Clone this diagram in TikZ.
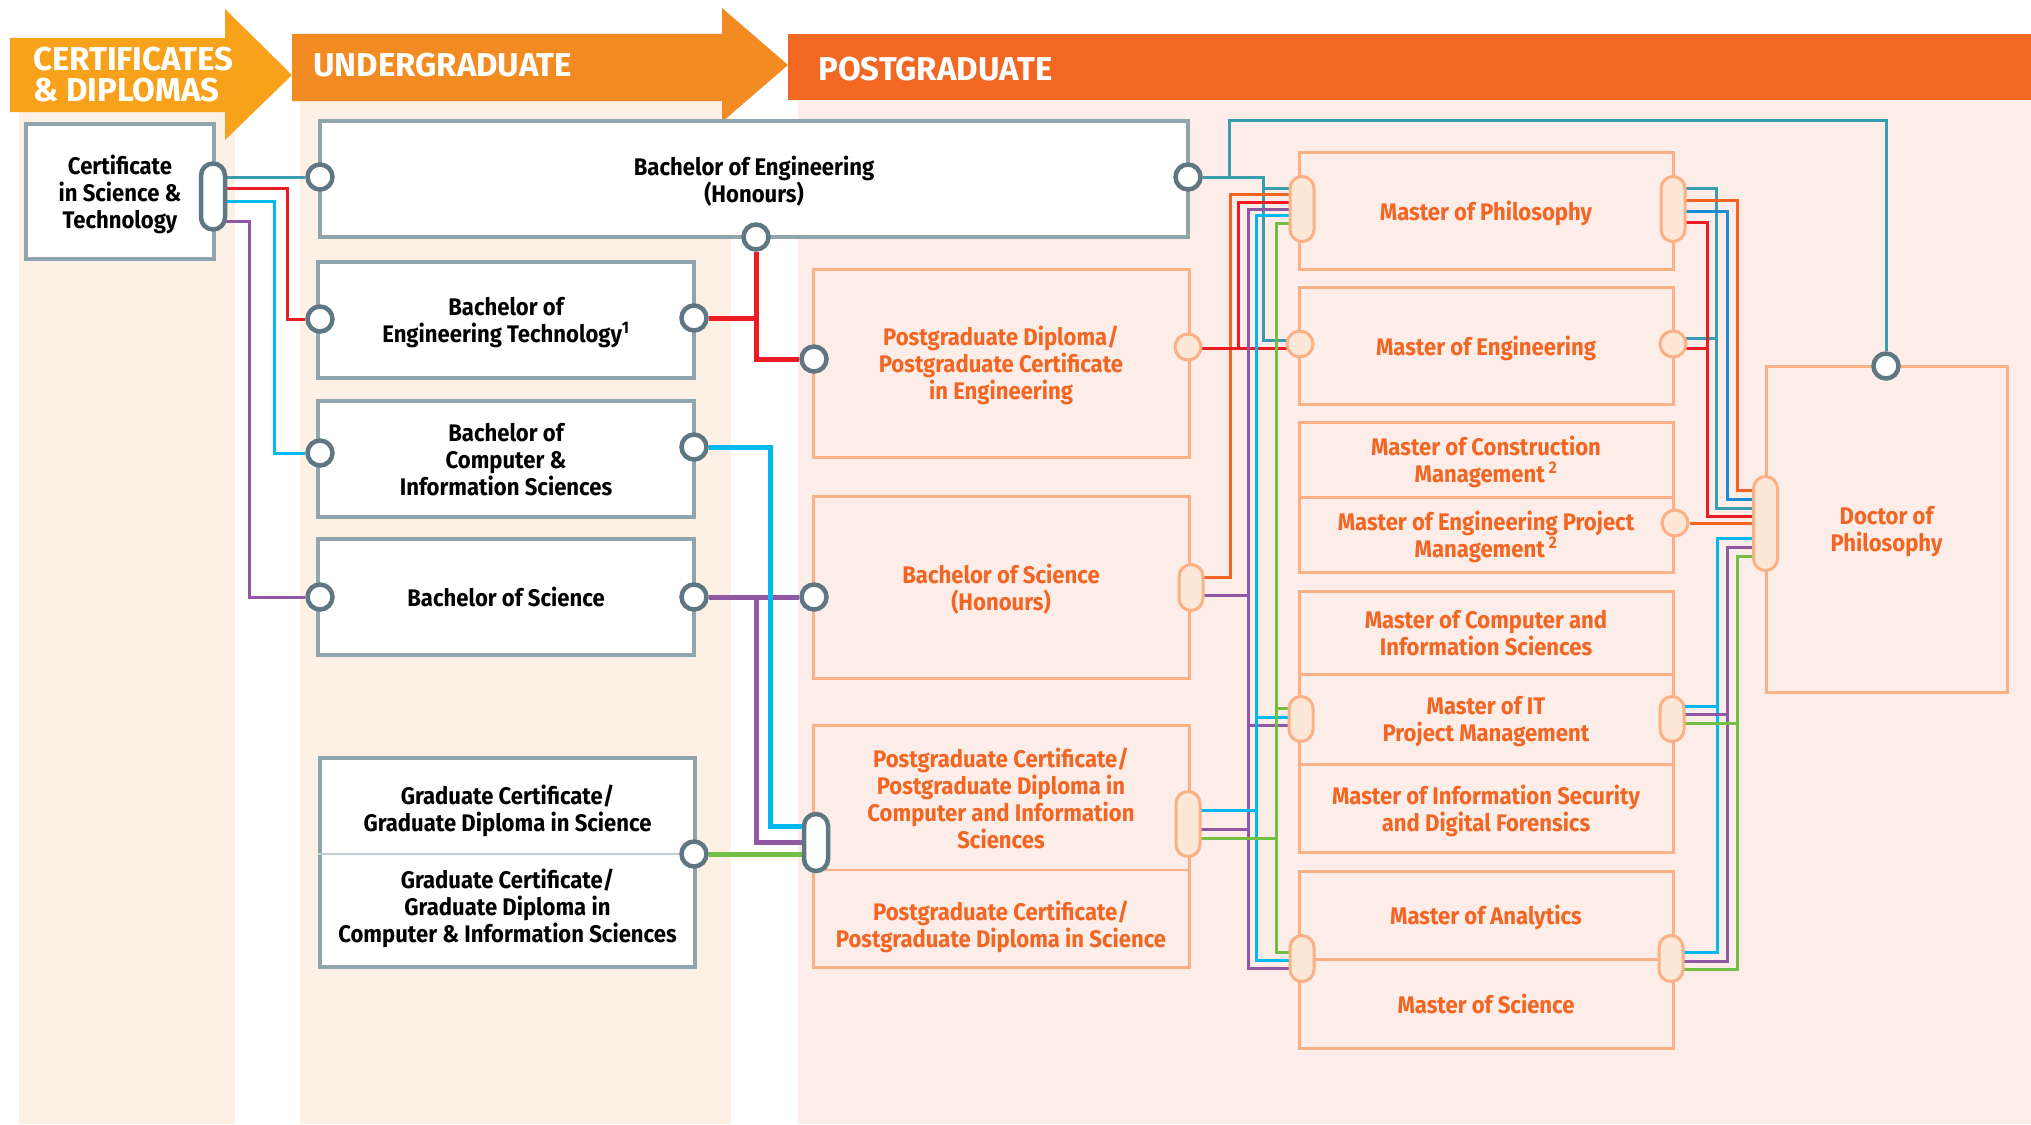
\documentclass[tikz,border=0pt]{standalone}
\usepackage{fontspec}
\setmainfont{Fira Sans}[FakeStretch=0.92]
\newfontfamily\bannerfam{Fira Sans}
\usetikzlibrary{positioning}

\definecolor{hdrA}{HTML}{F8A21C}
\definecolor{hdrB}{HTML}{F28B22}
\definecolor{hdrC}{HTML}{F26722}
\definecolor{colA}{HTML}{FDF1E6}
\definecolor{colB}{HTML}{FCEDE8}
\definecolor{boxgrey}{HTML}{8FA4AC}
\definecolor{dotgrey}{HTML}{5E7782}
\definecolor{boxorange}{HTML}{FBB086}
\definecolor{pillfill}{HTML}{FDE8D8}
\definecolor{txtorange}{HTML}{F26522}
\definecolor{lnteal}{HTML}{3A9DAF}
\definecolor{lnred}{HTML}{ED1C24}
\definecolor{lncyan}{HTML}{00B9EF}
\definecolor{lnpurple}{HTML}{8F57A4}
\definecolor{lngreen}{HTML}{72BF44}
\definecolor{lnorange}{HTML}{F26522}
\definecolor{lnblue}{HTML}{1B8DD3}

\newcommand\boxfont{\bfseries\fontsize{24}{27}\selectfont}
\newcommand\bannerfont{\bannerfam\bfseries\fontsize{33}{31}\selectfont}

\pgfdeclarelayer{bg}
\pgfdeclarelayer{lines}
\pgfsetlayers{bg,lines,main}

\begin{document}
\begin{tikzpicture}[x=1pt,y=-1pt,
  gbox/.style={draw=boxgrey,line width=4pt,fill=white,rectangle,align=center,text=black,font=\boxfont,text depth=0pt},
  obox/.style={draw=boxorange,line width=3pt,rectangle,align=center,text=txtorange,font=\boxfont,text depth=0pt},
  gtext/.style={align=center,text=black,font=\boxfont,text depth=0pt},
  otext/.style={align=center,text=txtorange,font=\boxfont,text depth=0pt},
  gdot/.style={circle,draw=dotgrey,line width=4.5pt,fill=white,minimum size=25pt,inner sep=0pt},
  odot/.style={circle,draw=boxorange,line width=3pt,fill=pillfill,minimum size=26pt,inner sep=0pt},
  gpill/.style={rectangle,rounded corners=12pt,draw=dotgrey,line width=4.5pt,fill=white,minimum width=24pt,inner sep=0pt},
  opill/.style={rectangle,rounded corners=12pt,draw=boxorange,line width=3pt,fill=pillfill,minimum width=24pt,inner sep=0pt},
  ln/.style={line width=3pt},
  bigln/.style={line width=5pt},
  banner/.style={text=white,font=\bannerfont,anchor=west,align=left,inner sep=0pt}]
\useasboundingbox (0,0) rectangle (2031,1124);

\begin{pgfonlayer}{bg}
\fill[white] (0,0) rectangle (2031,1124);
\fill[colA] (19,112) rectangle (235,1124);
\fill[colA] (300,101) rectangle (731,1124);
\fill[colB] (798,100) rectangle (2031,1124);
\fill[hdrA] (10,38) -- (225,38) -- (225,9) -- (292,75) -- (225,140) -- (225,112) -- (10,112) -- cycle;
\fill[hdrB] (292,34) -- (722,34) -- (722,8) -- (788,65) -- (722,122) -- (722,101) -- (292,101) -- cycle;
\fill[hdrC] (788,34) rectangle (2031,100);
\end{pgfonlayer}

\node[banner] (certhdr) at (33,75) {CERTIFICATES\\\& DIPLOMAS};
\node[banner] (ughdr) at (313,65) {UNDERGRADUATE};
\node[banner] (pghdr) at (818,69) {POSTGRADUATE};

\node[gbox,minimum width=188pt,minimum height=135pt] (cert) at (120,191.5) {Certificate\\in Science \&\\Technology};
\node[gbox,minimum width=868pt,minimum height=116pt] (boe) at (754,179) {Bachelor of Engineering\\(Honours)};
\node[gbox,minimum width=376pt,minimum height=116pt] (bet) at (506,320) {Bachelor of\\Engineering Technology\textsuperscript{1}};
\node[gbox,minimum width=376pt,minimum height=116pt] (bcis) at (506,459) {Bachelor of\\Computer \&\\Information Sciences};
\node[gbox,minimum width=376pt,minimum height=116pt] (bsc) at (506,597) {Bachelor of Science};
\node[gbox,minimum width=375pt,minimum height=209pt] (gcert) at (507.5,862.5) {};
	\node[gtext] (gcsci) at (507.5,808) {Graduate Certificate/\\Graduate Diploma in Science};
	\node[gtext] (gccis) at (507.5,906) {Graduate Certificate/\\Graduate Diploma in\\Computer \& Information Sciences};
	\draw[boxgrey!55,line width=1.5pt] (gcert.west |- 0,854) -- (gcert.east |- 0,854);

\node[obox,minimum width=376pt,minimum height=188pt] (pgdip) at (1001,363) {Postgraduate Diploma/\\Postgraduate Certificate\\in Engineering};
\node[obox,minimum width=376pt,minimum height=182pt] (bsch) at (1001,587) {Bachelor of Science\\(Honours)};
\node[obox,minimum width=376pt,minimum height=242pt] (pgcert) at (1001,846) {};
	\node[otext] (pgccis) at (1001,798) {Postgraduate Certificate/\\Postgraduate Diploma in\\Computer and Information\\Sciences};
	\node[otext] (pgcsci) at (1001,924) {Postgraduate Certificate/\\Postgraduate Diploma in Science};
	\draw[boxorange,line width=1.5pt] (pgcert.west |- 0,870) -- (pgcert.east |- 0,870);

\node[obox,minimum width=374pt,minimum height=117pt] (mphil) at (1486,210.5) {Master of Philosophy};
\node[obox,minimum width=374pt,minimum height=117pt] (meng) at (1486,345.5) {Master of Engineering};
\node[obox,minimum width=374pt,minimum height=75pt] (mcm) at (1486,459.5) {Master of Construction\\Management\,\textsuperscript{2}};
\node[obox,minimum width=374pt,minimum height=75pt] (mepm) at (1486,534.5) {Master of Engineering Project\\Management\,\textsuperscript{2}};
\node[obox,minimum width=374pt,minimum height=83pt] (mcis) at (1486,632.5) {Master of Computer and\\Information Sciences};
\node[obox,minimum width=374pt,minimum height=90pt] (mitpm) at (1486,719) {Master of IT\\Project Management};
\node[obox,minimum width=374pt,minimum height=88pt] (misdf) at (1486,808) {Master of Information Security\\and Digital Forensics};
\node[obox,minimum width=374pt,minimum height=88pt] (man) at (1486,915) {Master of Analytics};
\node[obox,minimum width=374pt,minimum height=89pt] (msc) at (1486,1003.5) {Master of Science};
\node[obox,minimum width=241pt,minimum height=326pt] (phd) at (1886.5,529) {Doctor of\\Philosophy};

\node[gpill,minimum height=66pt] (certpill) at (213,196.5) {};
\node[gdot] (boeL) at (320,177) {};
\node[gdot] (boeR) at (1188,177) {};
\node[gdot] (boeB) at (756,237) {};
\node[gdot] (betL) at (320,319) {};
\node[gdot] (betR) at (694,318) {};
\node[gdot] (bcisL) at (320,453) {};
\node[gdot] (bcisR) at (694,447) {};
\node[gdot] (bscL) at (320,597) {};
\node[gdot] (bscR) at (694,597) {};
\node[gdot] (gcR) at (694,854) {};
\node[gdot] (pgdipL) at (814,359) {};
\node[gdot] (bschL) at (814,597) {};
\node[gpill,minimum height=57pt] (pgcL) at (816,842.5) {};
\node[gdot] (phdT) at (1886,366) {};
\node[odot] (pgdipR) at (1188,347) {};
\node[opill,minimum height=46pt] (bschR) at (1191,587.5) {};
\node[opill,minimum height=65pt] (pgcR) at (1188,824) {};
\node[opill,minimum height=65pt] (mphilL) at (1302,209) {};
\node[opill,minimum height=65pt] (mphilR) at (1673,209) {};
\node[odot] (mengL) at (1300,344) {};
\node[odot] (mengR) at (1673,344) {};
\node[odot] (mepmR) at (1675,523) {};
\node[opill,minimum height=45pt] (mitpmL) at (1301,719) {};
\node[opill,minimum height=45pt] (mitpmR) at (1672,719) {};
\node[opill,minimum height=46pt] (msL) at (1302,958.5) {};
\node[opill,minimum height=46pt] (msR) at (1671,958.5) {};
\node[opill,minimum height=94pt] (phdL) at (1765.5,523.5) {};

\begin{pgfonlayer}{lines}
	\draw[ln,lnteal] (certpill |- boeL) -- (boeL);
	\draw[ln,lnred] (certpill |- 0,188) -- (287,188) |- (betL);
	\draw[ln,lncyan] (certpill |- 0,201) -- (274,201) |- (bcisL);
	\draw[ln,lnpurple] (certpill |- 0,221) -- (249,221) |- (bscL);

	\draw[bigln,lnred] (boeB) |- (pgdipL);
	\draw[bigln,lnred] (betR) -- (boeB |- betR);
	\draw[bigln,lnpurple] (bscR) -- (bschL);
	\draw[bigln,lnpurple] (756,597) |- (pgcL |- 0,842);
	\draw[bigln,lncyan] (bcisR) -| (770,826) -- (pgcL |- 0,826);
	\draw[bigln,lngreen] (gcR) -- (pgcL |- gcR);

	\draw[ln,lnteal] (boeR) -- (1263,177) -- (1263,340) -- (mengL |- 0,340);
	\draw[ln,lnteal] (1263,188) -- (mphilL |- 0,188);
	\draw[ln,lnteal] (1229,177) -- (1229,120) -| (phdT);
	\draw[ln,lnorange] (bschR |- 0,577) -| (1230,194) -- (mphilL |- 0,194);
	\draw[ln,lnred] (pgdipR |- 0,348) -- (mengL |- 0,348);
	\draw[ln,lnred] (1238,348) |- (mphilL |- 0,202);
	\draw[ln,lnpurple] (mphilL |- 0,209) -| (1248,968) -- (msL |- 0,968);
	\draw[ln,lnpurple] (bschR |- 0,595) -- (1248,595);
	\draw[ln,lnpurple] (1248,725) -- (mitpmL |- 0,725);
	\draw[ln,lnpurple] (pgcR |- 0,829) -- (1248,829);
	\draw[ln,lncyan] (mphilL |- 0,215) -| (1256,960) -- (msL |- 0,960);
	\draw[ln,lncyan] (1256,717) -- (mitpmL |- 0,717);
	\draw[ln,lncyan] (pgcR |- 0,810) -- (1256,810);
	\draw[ln,lngreen] (mphilL |- 0,223) -| (1276,952) -- (msL |- 0,952);
	\draw[ln,lngreen] (1276,708) -- (mitpmL |- 0,708);
	\draw[ln,lngreen] (pgcR |- 0,838) -- (1276,838);

	\draw[ln,lnteal] (mphilR |- 0,188) -| (1716,508) -- (phdL |- 0,508);
	\draw[ln,lnteal] (mengR |- 0,338) -- (1716,338);
	\draw[ln,lnorange] (mphilR |- 0,200) -| (1737,490) -- (phdL |- 0,490);
	\draw[ln,lnblue] (mphilR |- 0,211) -| (1727,499) -- (phdL |- 0,499);
	\draw[ln,lnred] (mphilR |- 0,222) -| (1707,516) -- (phdL |- 0,516);
	\draw[ln,lnred] (mengR |- 0,348) -- (1707,348);
	\draw[ln,lnorange] (mepmR) -- (phdL |- mepmR);
	\draw[ln,lncyan] (msR |- 0,952) -| (1717,538) -- (phdL |- 0,538);
	\draw[ln,lncyan] (mitpmR |- 0,706) -- (1717,706);
	\draw[ln,lnpurple] (msR |- 0,961) -| (1727,547) -- (phdL |- 0,547);
	\draw[ln,lnpurple] (mitpmR |- 0,714) -- (1727,714);
	\draw[ln,lngreen] (msR |- 0,969) -| (1737,556) -- (phdL |- 0,556);
	\draw[ln,lngreen] (mitpmR |- 0,723) -- (1737,723);
\end{pgfonlayer}
\end{tikzpicture}
\end{document}
